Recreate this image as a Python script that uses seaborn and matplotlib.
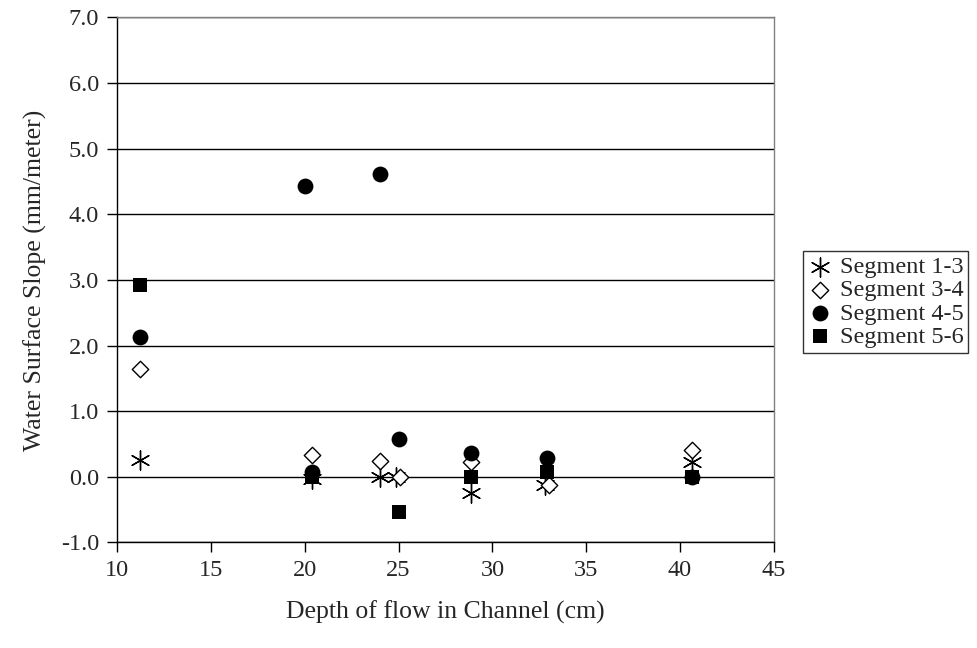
import matplotlib
matplotlib.use("Agg")
import matplotlib.pyplot as plt
import seaborn as sns

# Data
seg13_depth = [11.2, 20.4, 24.0, 24.85, 28.85, 32.8, 40.65]
seg13_slope = [0.25, -0.03, 0.0, 0.0, -0.25, -0.13, 0.22]

seg34_depth = [11.2, 20.4, 24.0, 25.1, 28.85, 33.0, 40.65]
seg34_slope = [1.64, 0.33, 0.24, 0.0, 0.23, -0.13, 0.41]

seg45_depth = [11.2, 20.0, 20.4, 24.0, 25.0, 28.85, 32.9, 40.65]
seg45_slope = [2.13, 4.43, 0.08, 4.62, 0.58, 0.36, 0.28, 0.0]

seg56_depth = [11.2, 20.4, 25.0, 28.85, 32.9, 40.65]
seg56_slope = [2.92, 0.0, -0.53, 0.0, 0.08, 0.0]

x_ticks = [10, 15, 20, 25, 30, 35, 40, 45]
y_ticks = [-1.0, 0.0, 1.0, 2.0, 3.0, 4.0, 5.0, 6.0, 7.0]

sns.set_style("white")
plt.rcParams["font.family"] = ["Liberation Serif", "DejaVu Serif"]

fig = plt.figure(figsize=(9.77, 6.48), dpi=100)
ax = fig.add_axes([0.12, 0.163, 0.672, 0.81])

# horizontal gridlines
for yv in y_ticks:
    ax.axhline(yv, color="black", lw=1.0, zorder=0)

sns.scatterplot(x=seg13_depth, y=seg13_slope, marker=(6, 2, 0), color="black",
                s=190, linewidth=1.0, label="Segment 1-3", ax=ax, zorder=3)
sns.scatterplot(x=seg34_depth, y=seg34_slope, marker="D", color="white",
                edgecolor="black", s=70, linewidth=1.0, label="Segment 3-4", ax=ax, zorder=3)
sns.scatterplot(x=seg45_depth, y=seg45_slope, marker="o", color="black",
                edgecolor="black", s=130, linewidth=0, label="Segment 4-5", ax=ax, zorder=3)
sns.scatterplot(x=seg56_depth, y=seg56_slope, marker="s", color="black",
                edgecolor="black", s=105, linewidth=0, label="Segment 5-6", ax=ax, zorder=3)

ax.set_xlim(10, 45)
ax.set_ylim(-1.0, 7.0)
ax.set_xticks(x_ticks)
ax.set_yticks(y_ticks)
ax.set_yticklabels([f"{v:.1f}" for v in y_ticks])
ax.tick_params(axis="both", direction="out", length=7, width=1, color="black",
               labelsize=17.5, pad=6, bottom=True, left=True)

for side in ["left", "bottom"]:
    ax.spines[side].set_color("black")
    ax.spines[side].set_linewidth(1.0)
for side in ["right", "top"]:
    ax.spines[side].set_color("#808080")
    ax.spines[side].set_linewidth(1.0)

ax.set_xlabel("Depth of flow in Channel (cm)", fontsize=18.5, labelpad=14)
ax.set_ylabel("Water Surface Slope (mm/meter)", fontsize=18.5, labelpad=10)

leg = ax.legend(loc="center left", bbox_to_anchor=(0.822, 0.534),
                bbox_transform=fig.transFigure, fontsize=17.5, frameon=True,
                fancybox=False, edgecolor="black", borderpad=0.2,
                labelspacing=0.05, handletextpad=0.3, handlelength=1.0,
                borderaxespad=0)
leg.get_frame().set_linewidth(1.0)

fig.savefig("out.png", dpi=100, facecolor="white")
